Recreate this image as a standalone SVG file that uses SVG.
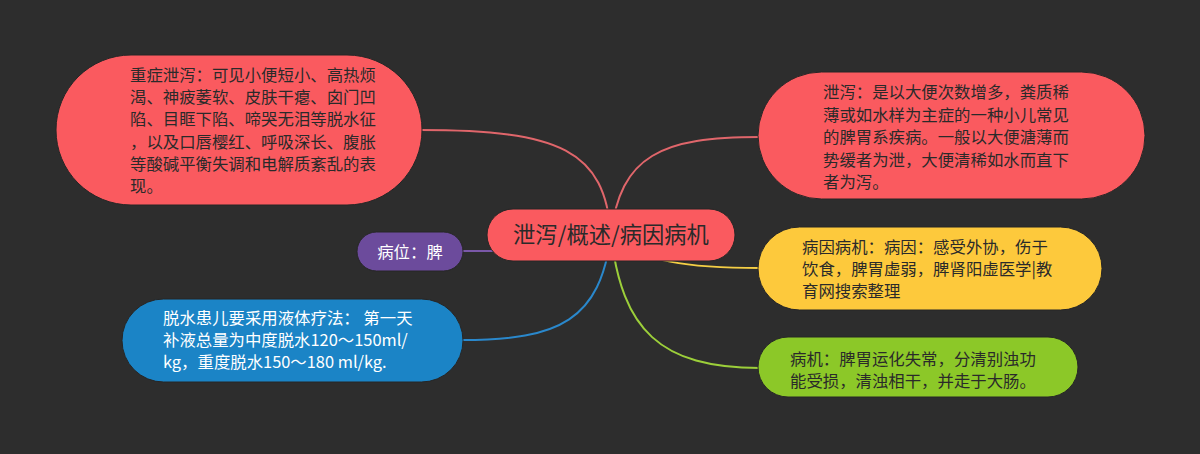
<svg xmlns="http://www.w3.org/2000/svg" width="1200" height="454" viewBox="0 0 1200 454">
<style>
.t{font-family:"Noto Sans CJK SC","Noto Sans",sans-serif;font-size:16.4px;fill:#2a2a2a}
.w{fill:#ffffff}
.c{fill:none;stroke-width:2}
.n{stroke:#262626;stroke-width:1}
</style>
<rect width="1200" height="454" fill="#2d2d2d"/>
<g id="connectors">
<path class="c" stroke="#e0666b" d="M611 235 C605 150 560 130 420 130"/>
<path class="c" stroke="#e0666b" d="M611 235 C620 155 662 137 760 137"/>
<path class="c" stroke="#f5cf45" d="M611 235 C640 262 690 268 760 268"/>
<path class="c" stroke="#9ccf3a" d="M611 235 C622 330 660 368 760 368"/>
<path class="c" stroke="#2a88cc" d="M611 235 C600 320 560 340 462 340"/>
<path class="c" stroke="#7a58a8" d="M611 251 L462 251"/>
</g>
<g id="center">
<rect class="n" x="487" y="209" width="248" height="52" rx="26" fill="#fa5a5f"/>
<text class="t" x="611" y="243" text-anchor="middle" style="font-size:22.3px">泄泻/概述/病因病机</text>
</g>
<g id="node-severe">
<rect class="n" x="56" y="55" width="366" height="150" rx="75" fill="#fa5a5f"/>
<text class="t" x="130" y="81">重症泄泻：可见小便短小、高热烦</text>
<text class="t" x="130" y="103.2">渴、神疲萎软、皮肤干瘪、囟门凹</text>
<text class="t" x="130" y="125.4">陷、目眶下陷、啼哭无泪等脱水征</text>
<text class="t" x="130" y="147.6">，以及口唇樱红、呼吸深长、腹胀</text>
<text class="t" x="130" y="169.8">等酸碱平衡失调和电解质紊乱的表</text>
<text class="t" x="130" y="192">现。</text>
</g>
<g id="node-definition">
<rect class="n" x="758" y="72" width="387" height="127" rx="63.5" fill="#fa5a5f"/>
<text class="t" x="823" y="98">泄泻：是以大便次数增多，粪质稀</text>
<text class="t" x="823" y="120.5">薄或如水样为主症的一种小儿常见</text>
<text class="t" x="823" y="143">的脾胃系疾病。一般以大便溏薄而</text>
<text class="t" x="823" y="165.5">势缓者为泄，大便清稀如水而直下</text>
<text class="t" x="823" y="188">者为泻。</text>
</g>
<g id="node-location">
<rect class="n" x="357" y="232" width="106" height="39" rx="19.5" fill="#6c4b9c"/>
<text class="t w" x="410" y="258" text-anchor="middle">病位：脾</text>
</g>
<g id="node-cause">
<rect class="n" x="758" y="227" width="344" height="83" rx="41.5" fill="#fdc93c"/>
<text class="t" x="802" y="253">病因病机：病因：感受外协，伤于</text>
<text class="t" x="802" y="275">饮食，脾胃虚弱，脾肾阳虚医学|教</text>
<text class="t" x="802" y="297">育网搜索整理</text>
</g>
<g id="node-fluid">
<rect class="n" x="122" y="299" width="341" height="83" rx="41.5" fill="#1b84c6"/>
<text class="t w" x="163" y="324">脱水患儿要采用液体疗法： 第一天</text>
<text class="t w" x="163" y="346">补液总量为中度脱水120～150ml/</text>
<text class="t w" x="163" y="368">kg，重度脱水150～180 ml/kg.</text>
</g>
<g id="node-mechanism">
<rect class="n" x="758" y="337" width="320" height="60" rx="30" fill="#8cc828"/>
<text class="t" x="790" y="365">病机：脾胃运化失常，分清别浊功</text>
<text class="t" x="790" y="387">能受损，清浊相干，并走于大肠。</text>
</g>
</svg>
